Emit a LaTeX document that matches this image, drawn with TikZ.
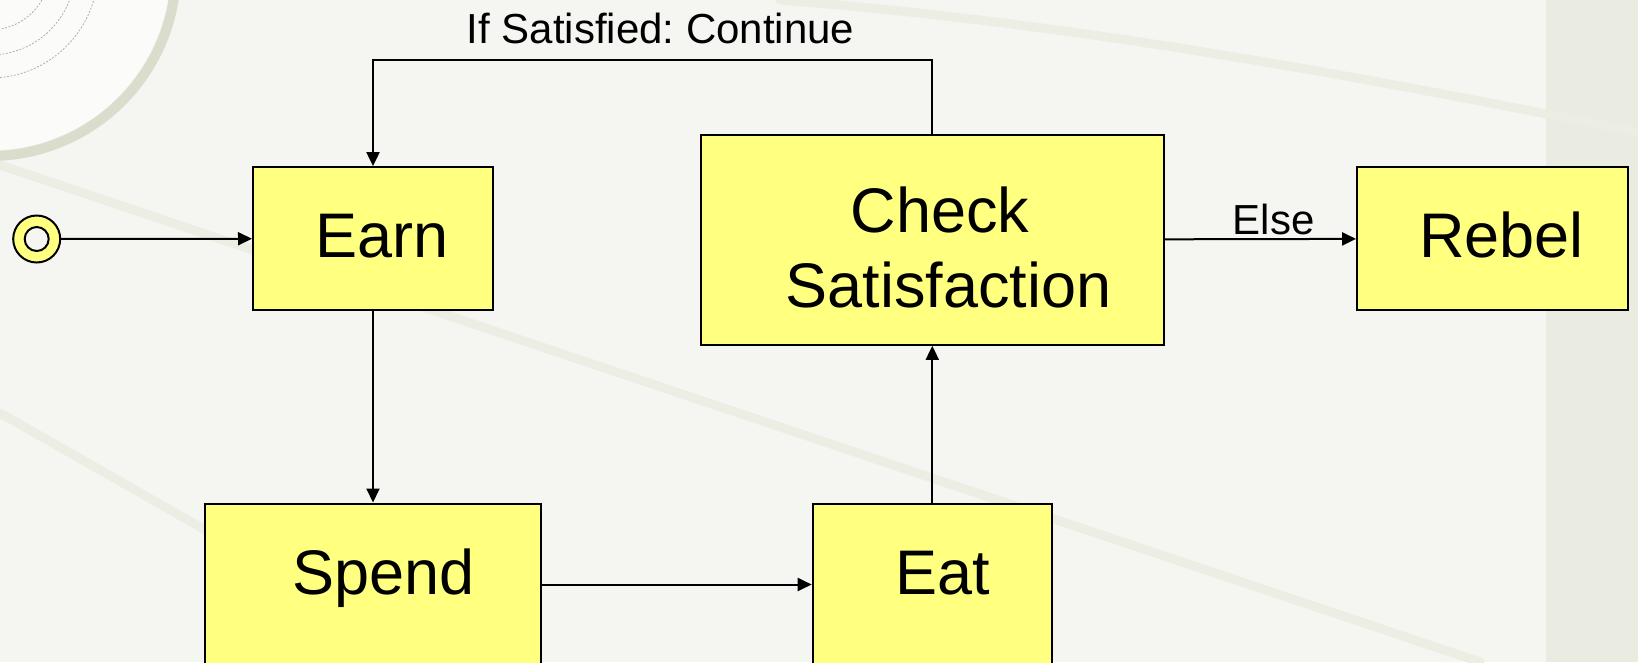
\documentclass[tikz,border=0pt]{standalone}
\usepackage{fontspec}
\setmainfont{Liberation Sans}
\usetikzlibrary{arrows.meta}
\frenchspacing

\definecolor{boxyellow}{RGB}{255,255,128}
\definecolor{slide}{RGB}{245,246,241}
\definecolor{streakcol}{RGB}{236,238,228}
\definecolor{rimcol}{RGB}{218,220,204}
\definecolor{wirecol}{RGB}{170,172,140}
\definecolor{sideband}{RGB}{234,236,226}

\tikzset{
  statebox/.style={rectangle, draw=black, line width=2pt, fill=boxyellow,
    inner sep=0pt, font=\fontsize{63}{75}\selectfont},
  upperbox/.style={statebox, text height=45pt, text depth=7pt},
  lowbox/.style={statebox, text height=45pt, text depth=26pt},
  startring/.style={circle, draw=black, line width=2pt, fill=boxyellow,
    inner sep=0pt, minimum size=47pt},
  startdot/.style={circle, draw=black, line width=2pt, fill=slide,
    inner sep=0pt, minimum size=24pt},
  edgelabel/.style={font=\fontsize{42}{50}\selectfont, inner sep=3pt},
  streakline/.style={draw=streakcol, line width=9pt, line cap=round},
}

\begin{document}
\begin{tikzpicture}[x=1pt, y=-1pt, line width=2pt,
  >={Triangle[length=14pt, width=13pt]}]

\useasboundingbox (0,0) rectangle (1638,662);
\clip (0,0) rectangle (1638,662);

% slide background
\fill [slide] (0,0) rectangle (1638,662);
\fill [sideband] (1546,0) rectangle (1638,662);
\draw [streakline] (0,165) -- (1480,662);
\draw [streakline] (0,413) -- (437,662);
\draw [streakline] (780,0) .. controls (1100,25) and (1400,85) .. (1638,132);

% globe in the corner
\fill [white!60!slide] (-10,-30) circle (180);
\begin{scope}
  \clip (-10,-30) circle (112);
  \foreach \a in {-10,-28,-46,-64,-82}
    \draw [wirecol, line width=0.7pt, dash pattern=on 2pt off 1.5pt]
      (-10,-30) -- ++(\a:200);
  \foreach \r in {60,85,108}
    \draw [wirecol, line width=0.7pt, dash pattern=on 2pt off 1.5pt]
      (-10,-30) circle (\r);
\end{scope}
\draw [rimcol, line width=10pt] (-10,-30) circle (186);

% define initial state
\node [startring] (start) at (36.7,239) {};
\node [startdot] (start-dot) at (start) {};

% define upper states
\foreach \n/\l/\x/\w in {earn/Earn/373/240, rebel/Rebel/1492.3/270.5}
  \node [upperbox, minimum width=\w, minimum height=143] (\n) at (\x,238.6)
    {\hspace*{18pt}\l};

\node [statebox, align=center, minimum width=463, minimum height=210]
  (check) at (932.3,239.8)
  {\rule{0pt}{62pt}\hspace*{15pt}Check\\\hspace*{32pt}Satisfaction};

% define lower states
\foreach \n/\l/\x/\w in {spend/Spend/373/336.4, eat/Eat/932.3/239.2}
  \node [lowbox, minimum width=\w, minimum height=162] (\n) at (\x,584.5)
    {\hspace*{21pt}\l};

% connect states
\draw [->] (start) -- (earn);
\draw [->] (earn) -- (spend);
\draw [->] (spend) -- (eat);
\draw [->] (eat) -- (check);
\draw [->] (check) -- (rebel)
  node [edgelabel, above, pos=0.57] {Else};

% loop back to earn
\coordinate (loop-top) at (932.3,59.5);
\draw [->] (check.north) -- (loop-top) -|
  node [edgelabel, above=12pt, pos=0.243] {If Satisfied: Continue} (earn.north);

\end{tikzpicture}
\end{document}
